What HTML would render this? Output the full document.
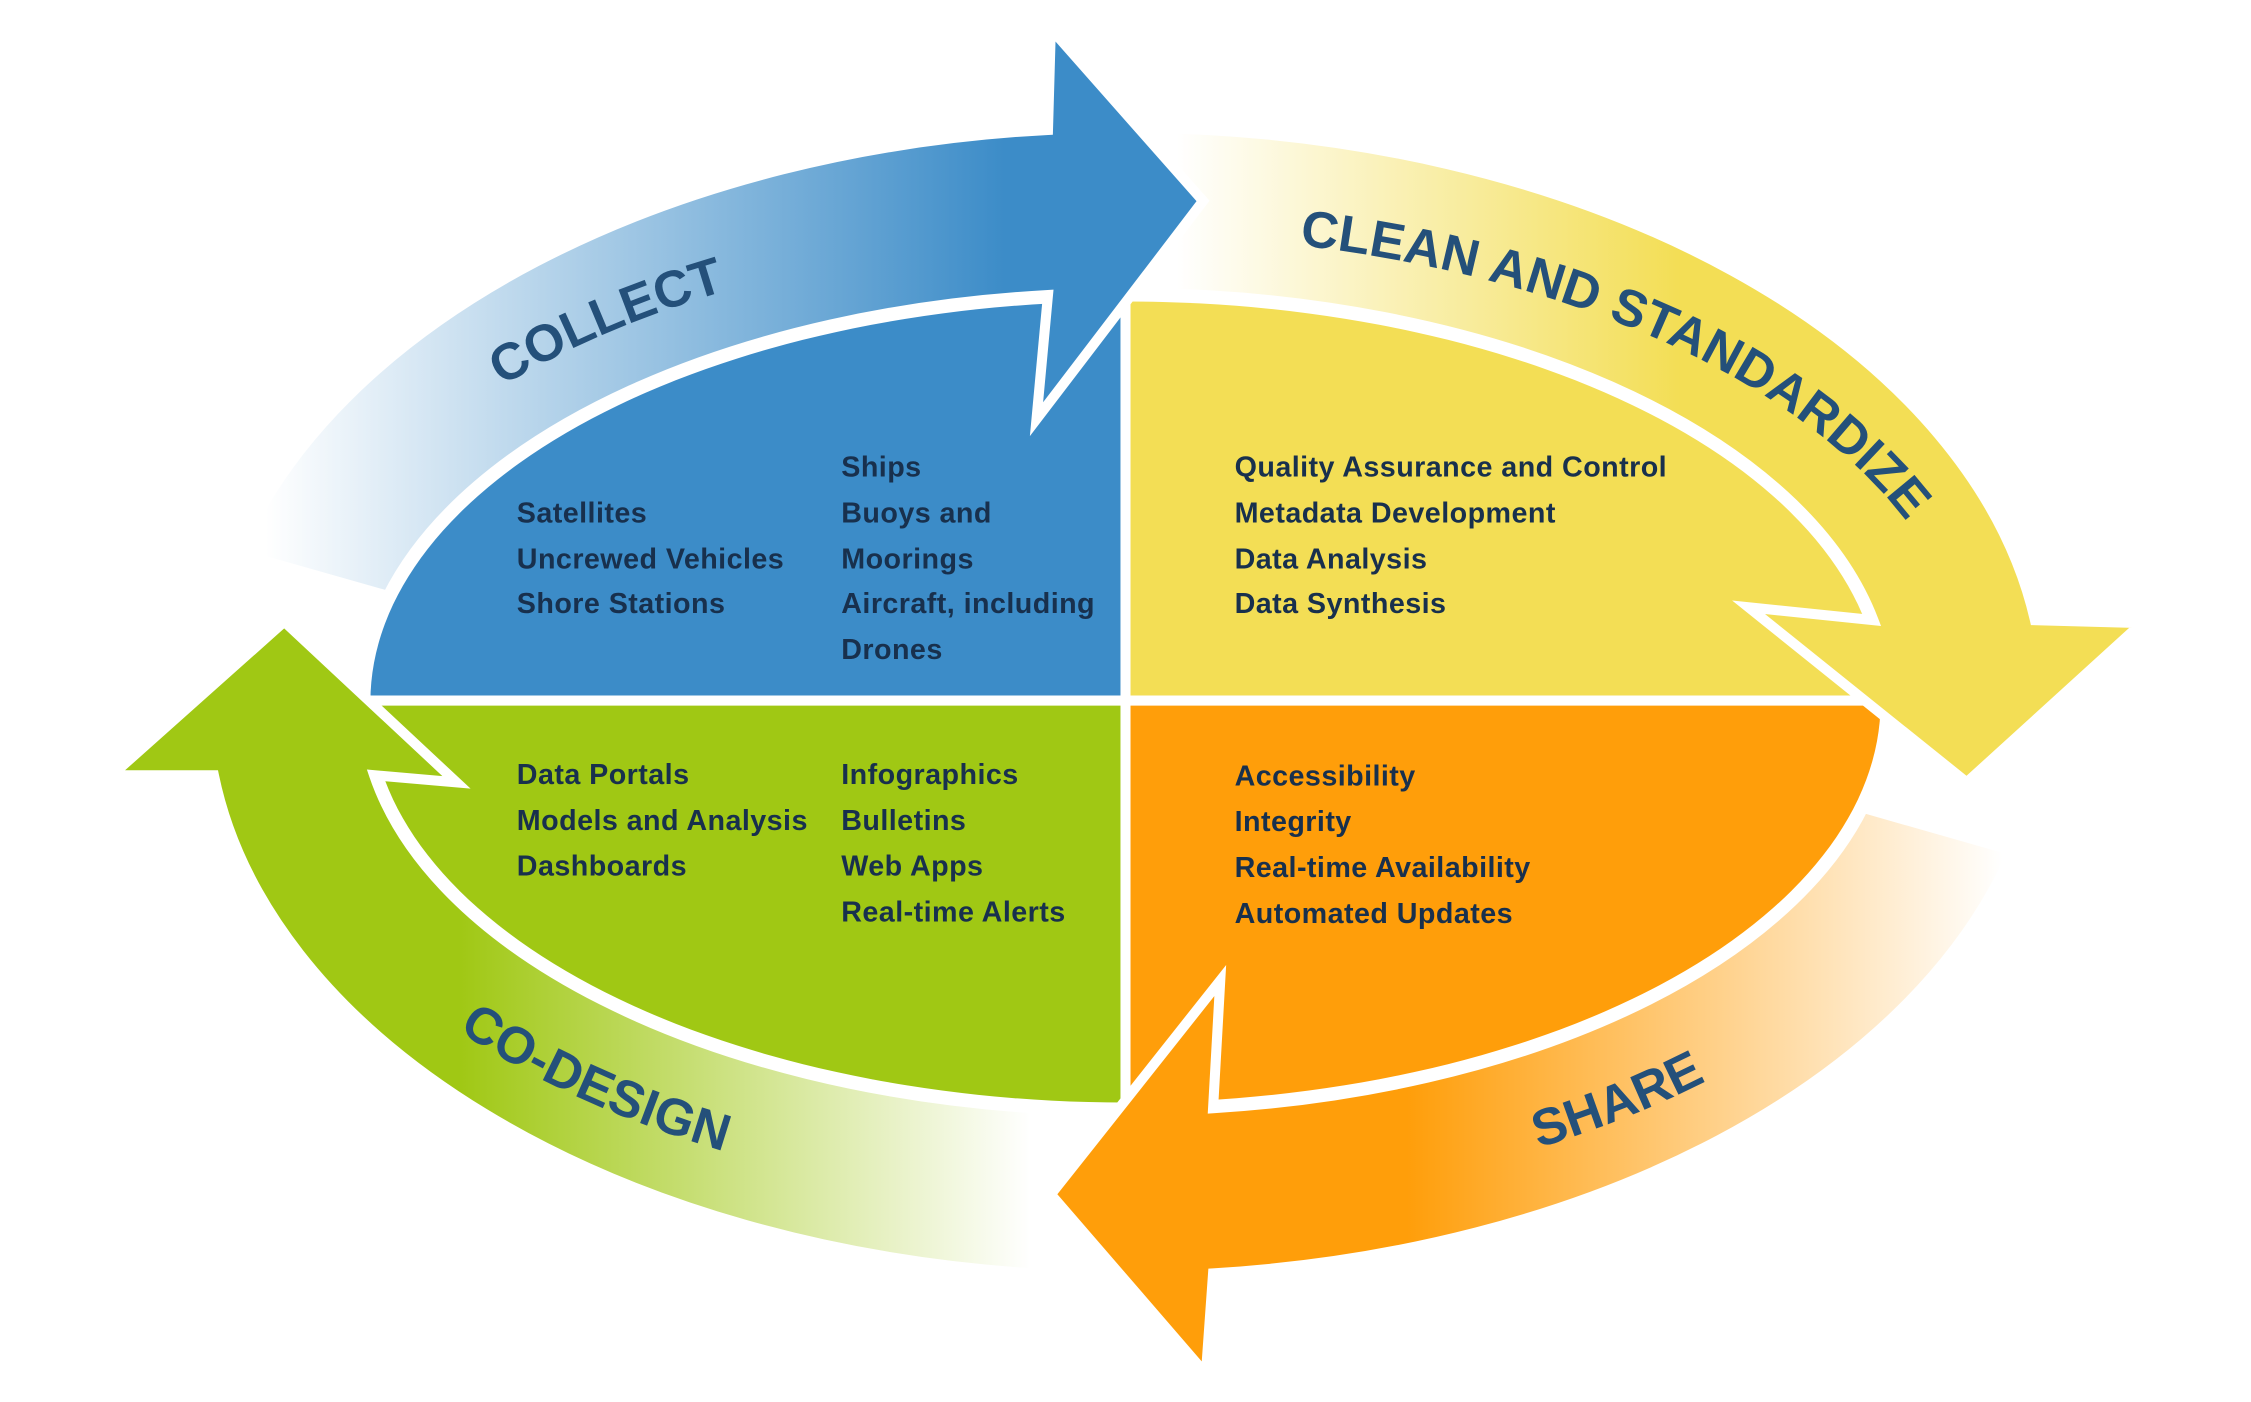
<!DOCTYPE html>
<html><head><meta charset="utf-8"><style>
html,body{margin:0;padding:0;background:#fff;}
svg{display:block;}
.t{font-family:"Liberation Sans",Arial,sans-serif;font-weight:bold;font-size:20px;letter-spacing:0.3px;fill:#18304d;}
.l{font-family:"Liberation Sans",Arial,sans-serif;font-weight:bold;font-size:36px;fill:#24507a;}
</style></head><body>
<svg width="2251" height="1402" viewBox="0 0 1568 976.6" xmlns="http://www.w3.org/2000/svg">
<defs>
<clipPath id="ce"><ellipse cx="784" cy="489" rx="526" ry="279"/></clipPath>
<linearGradient id="gb" gradientUnits="userSpaceOnUse" x1="185" y1="0" x2="700" y2="0">
<stop offset="0" stop-color="#3c8cc8" stop-opacity="0"/><stop offset="1" stop-color="#3c8cc8"/></linearGradient>
<linearGradient id="gy" gradientUnits="userSpaceOnUse" x1="820" y1="0" x2="1170" y2="0">
<stop offset="0" stop-color="#f3de55" stop-opacity="0"/><stop offset="1" stop-color="#f3de55"/></linearGradient>
<linearGradient id="go" gradientUnits="userSpaceOnUse" x1="1395" y1="0" x2="980" y2="0">
<stop offset="0" stop-color="#ff9e0a" stop-opacity="0"/><stop offset="1" stop-color="#ff9e0a"/></linearGradient>
<linearGradient id="gg" gradientUnits="userSpaceOnUse" x1="718" y1="0" x2="320" y2="0">
<stop offset="0" stop-color="#a0c814" stop-opacity="0"/><stop offset="1" stop-color="#a0c814"/></linearGradient>
<path id="ptop" d="M 194,489 A 590 325 0 0 1 1374,489" fill="none"/>
<path id="pbot" d="M 172,489 A 612 352 0 0 0 1396,489" fill="none"/>
</defs>
<g clip-path="url(#ce)">
<rect x="200" y="150" width="584" height="339" fill="#3c8cc8"/>
<rect x="784" y="150" width="600" height="339" fill="#f3de55"/>
<rect x="200" y="489" width="584" height="339" fill="#a0c814"/>
<rect x="784" y="489" width="600" height="339" fill="#ff9e0a"/>
</g>
<line x1="784" y1="195" x2="784" y2="785" stroke="#fff" stroke-width="7"/>
<line x1="240" y1="488" x2="1330" y2="488" stroke="#fff" stroke-width="7"/>

<path d="M 795,89 A 640 400 0 0 1 1417.5,432 L 1492,434 L 1370,545 L 1218,423 L 1305,432 A 532 285 0 0 0 793,204 Z" fill="url(#gy)" stroke="#fff" stroke-width="7" stroke-linejoin="miter"/>
<path d="M 720,887 A 640 400 0 0 1 149,540 L 78,540 L 198,433 L 318,545 L 260.6,540 A 532 285 0 0 0 720,772 Z" fill="url(#gg)" stroke="#fff" stroke-width="7"/>
<path d="M 1402,592.5 A 640 400 0 0 1 845,887 L 840,957 L 732,832 L 850,683 L 845,772 A 532 285 0 0 0 1298,562.8 Z" fill="url(#go)" stroke="#fff" stroke-width="7"/>
<path d="M 166,385.5 A 640 400 0 0 1 730,90.5 L 732,20 L 838,140 L 722,292 L 730,205.5 A 532 285 0 0 0 270,415 Z" fill="url(#gb)" stroke="#fff" stroke-width="7"/>

<text class="l"><textPath href="#ptop" startOffset="25%" text-anchor="middle">COLLECT</textPath></text>
<text class="l"><textPath href="#ptop" startOffset="74.5%" text-anchor="middle">CLEAN AND STANDARDIZE</textPath></text>
<text class="l"><textPath href="#pbot" startOffset="25%" text-anchor="middle">CO-DESIGN</textPath></text>
<text class="l"><textPath href="#pbot" startOffset="73%" text-anchor="middle">SHARE</textPath></text>

<g class="t">
<text x="360" y="364">Satellites</text>
<text x="360" y="396">Uncrewed Vehicles</text>
<text x="360" y="427">Shore Stations</text>
<text x="586" y="332">Ships</text>
<text x="586" y="364">Buoys and</text>
<text x="586" y="396">Moorings</text>
<text x="586" y="427">Aircraft, including</text>
<text x="586" y="459">Drones</text>
<text x="860" y="332">Quality Assurance and Control</text>
<text x="860" y="364">Metadata Development</text>
<text x="860" y="396">Data Analysis</text>
<text x="860" y="427">Data Synthesis</text>
<text x="360" y="546">Data Portals</text>
<text x="360" y="578">Models and Analysis</text>
<text x="360" y="610">Dashboards</text>
<text x="586" y="546">Infographics</text>
<text x="586" y="578">Bulletins</text>
<text x="586" y="610">Web Apps</text>
<text x="586" y="642">Real-time Alerts</text>
<text x="860" y="547">Accessibility</text>
<text x="860" y="579">Integrity</text>
<text x="860" y="611">Real-time Availability</text>
<text x="860" y="643">Automated Updates</text>
</g>
</svg>
</body></html>
